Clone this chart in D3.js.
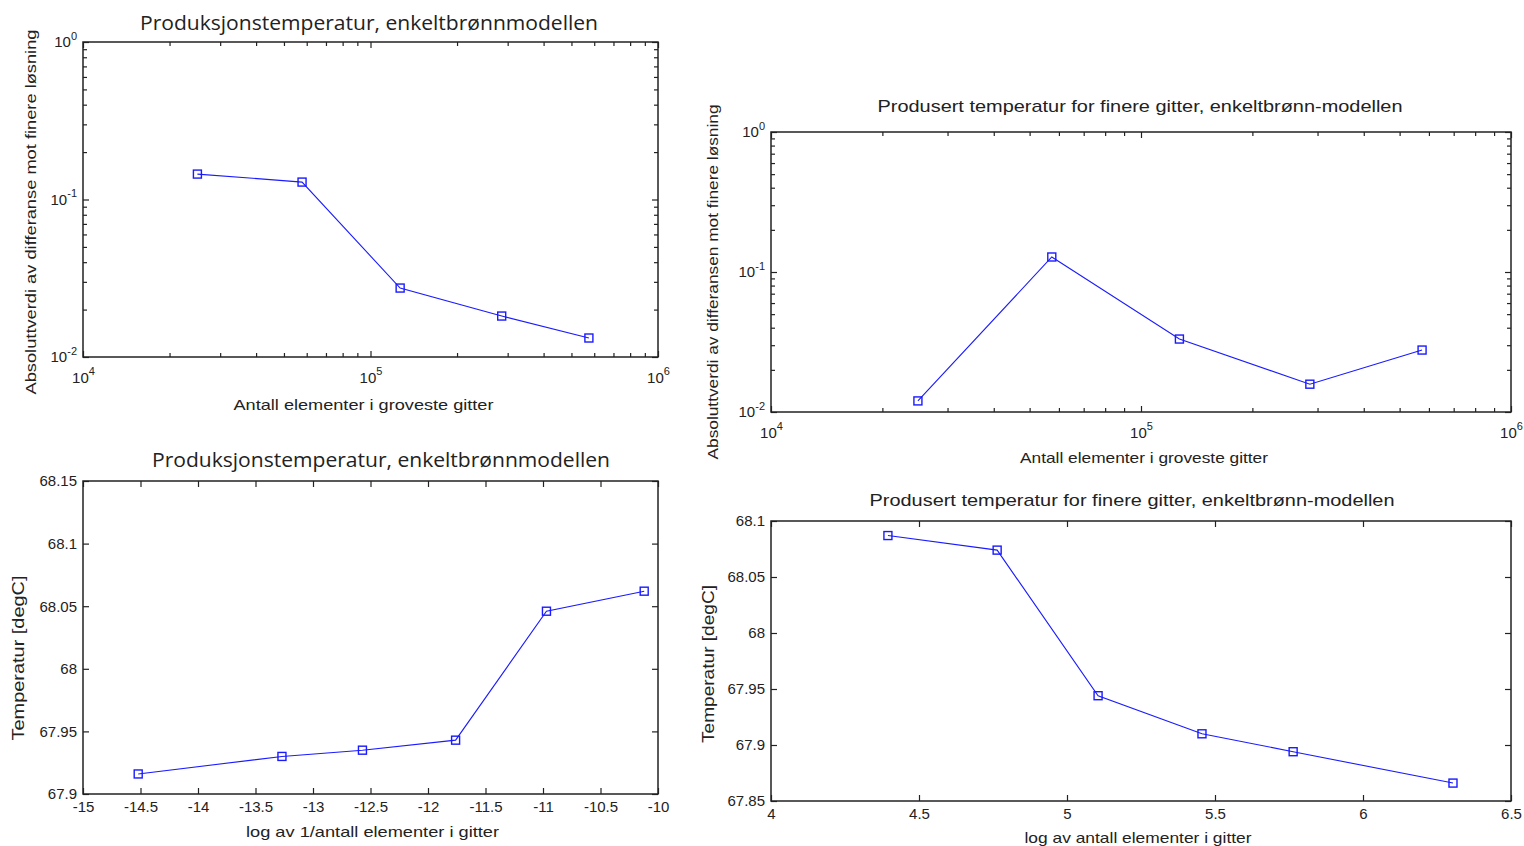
<!DOCTYPE html>
<html>
<head>
<meta charset="utf-8">
<script src="https://cdn.jsdelivr.net/npm/d3@7"></script>
<style>
  body { margin: 0; background: #fff; }
  svg { display: block; }
</style>
</head>
<body>
<div id="chart"></div>
<script>
// top left: abs. difference vs finer solution, log-log
const tlElements = [25000, 57800, 126800, 286000, 575000]
const tlDiff = [0.145, 0.129, 0.0274, 0.0182, 0.0132]

// top right: finer grids
const trElements = [24950, 57400, 127000, 286000, 575000]
const trDiff = [0.0120, 0.128, 0.0332, 0.0158, 0.0277]

// bottom left: temperature vs log(1/N)
const blLogInv = [-14.52, -13.27, -12.57, -11.76, -10.97, -10.12]
const blTemp = [67.916, 67.930, 67.935, 67.943, 68.046, 68.062]

// bottom right: temperature vs log(N)
const brLog = [4.395, 4.764, 5.105, 5.456, 5.764, 6.304]
const brTemp = [68.087, 68.074, 67.944, 67.910, 67.894, 67.866]

const logXTicks = [1e4, 1e5, 1e6]
const logYTicks = [1e-2, 1e-1, 1]
const blXTicks = [-15, -14.5, -14, -13.5, -13, -12.5, -12, -11.5, -11, -10.5, -10]
const blYTicks = [67.9, 67.95, 68, 68.05, 68.1, 68.15]
const brXTicks = [4, 4.5, 5, 5.5, 6, 6.5]
const brYTicks = [67.85, 67.9, 67.95, 68, 68.05, 68.1]

const titleLeft = "Produksjonstemperatur, enkeltbrønnmodellen"
const titleRight = "Produsert temperatur for finere gitter, enkeltbrønn-modellen"

const ink = "#222"
const blue = "#1a1aff"
const sans = "Liberation Sans, Arial, sans-serif"

const svg = d3.select("#chart").append("svg").attr("width", 1524).attr("height", 846)

function minorLogTicks(lo, hi){
    const out = []
    for(let e = lo; e < hi; e++){
        for(let m = 2; m <= 9; m++) out.push(m * Math.pow(10, e))
    }
    return out
}

function supLabel(sel, supSize){
    sel.each(function(d){
        const t = d3.select(this)
        t.text(null)
        t.append("tspan").text("10")
        t.append("tspan").attr("dy", "-0.7em").attr("font-size", supSize)
         .text(Math.round(Math.log10(d)))
    })
}

function drawPanel(p){
    const g = svg.append("g")
    const x = p.xlog ? d3.scaleLog().domain(p.xdom).range([p.x0, p.x1])
                     : d3.scaleLinear().domain(p.xdom).range([p.x0, p.x1])
    const y = p.ylog ? d3.scaleLog().domain(p.ydom).range([p.y1, p.y0])
                     : d3.scaleLinear().domain(p.ydom).range([p.y1, p.y0])

    const fmt = d => String(+d.toFixed(2))
    const tk = 6

    // minor ticks on log axes
    if(p.xlog){
        const mx = minorLogTicks(4, 6)
        g.append("g").attr("transform", `translate(0,${p.y1})`)
         .call(d3.axisBottom(x).tickValues(mx).tickSize(-4).tickFormat(""))
        g.append("g").attr("transform", `translate(0,${p.y0})`)
         .call(d3.axisTop(x).tickValues(mx).tickSize(-4).tickFormat(""))
    }
    if(p.ylog){
        const my = minorLogTicks(-2, 0)
        g.append("g").attr("transform", `translate(${p.x0},0)`)
         .call(d3.axisLeft(y).tickValues(my).tickSize(-4).tickFormat(""))
        g.append("g").attr("transform", `translate(${p.x1},0)`)
         .call(d3.axisRight(y).tickValues(my).tickSize(-4).tickFormat(""))
    }

    const xb = g.append("g").attr("transform", `translate(0,${p.y1})`)
     .call(d3.axisBottom(x).tickValues(p.xticks).tickSize(-tk).tickPadding(p.xlog ? 15 : 7).tickFormat(fmt))
    g.append("g").attr("transform", `translate(0,${p.y0})`)
     .call(d3.axisTop(x).tickValues(p.xticks).tickSize(-tk).tickFormat(""))
    const yl = g.append("g").attr("transform", `translate(${p.x0},0)`)
     .call(d3.axisLeft(y).tickValues(p.yticks).tickSize(-tk).tickPadding(6).tickFormat(fmt))
    g.append("g").attr("transform", `translate(${p.x1},0)`)
     .call(d3.axisRight(y).tickValues(p.yticks).tickSize(-tk).tickFormat(""))

    g.selectAll(".domain").remove()
    g.selectAll(".tick line").attr("stroke", ink).attr("stroke-width", 1.2)
    g.selectAll("g").attr("font-size", null).attr("font-family", null)
    g.selectAll(".tick text").attr("fill", ink).style("font-family", sans)
     .style("font-size", "15px")

    if(p.xlog) supLabel(xb.selectAll(".tick text"), "11px")
    if(p.ylog) supLabel(yl.selectAll(".tick text"), "11px")

    g.append("rect").attr("x", p.x0).attr("y", p.y0)
     .attr("width", p.x1 - p.x0).attr("height", p.y1 - p.y0)
     .attr("fill", "none").attr("stroke", ink).attr("stroke-width", 1.5)

    const pts = p.xs.map((v, i) => ({x: v, y: p.ys[i]}))
    const line = d3.line().x(d => x(d.x)).y(d => y(d.y))
    g.append("path").datum(pts).attr("fill", "none").attr("stroke", blue)
     .attr("stroke-width", 1.1).attr("d", line)

    const s = 8
    g.selectAll("rect.pt").data(pts).enter().append("rect").attr("class", "pt")
     .attr("x", d => x(d.x) - s / 2).attr("y", d => y(d.y) - s / 2)
     .attr("width", s).attr("height", s)
     .attr("fill", "none").attr("stroke", blue).attr("stroke-width", 1.4)

    // titles and axis labels
    g.append("text").attr("x", p.titleX).attr("y", p.titleY).attr("text-anchor", "middle")
     .attr("font-family", p.titleFont).attr("font-size", p.titleSize).attr("fill", ink)
     .attr("textLength", p.titleLen).attr("lengthAdjust", "spacingAndGlyphs")
     .text(p.title)

    g.append("text").attr("x", (p.x0 + p.x1) / 2 + p.xlabDx).attr("y", p.xlabY).attr("text-anchor", "middle")
     .attr("font-family", sans).attr("font-size", "15px").attr("fill", ink)
     .attr("textLength", p.xlabLen).attr("lengthAdjust", "spacingAndGlyphs")
     .text(p.xlab)

    g.append("text").attr("transform", `translate(${p.ylabX},${p.ylabY}) rotate(-90)`)
     .attr("text-anchor", "middle")
     .attr("font-family", sans).attr("font-size", p.ylabSize).attr("fill", ink)
     .attr("textLength", p.ylabLen).attr("lengthAdjust", "spacingAndGlyphs")
     .text(p.ylab)
}

drawPanel({
    x0: 83, x1: 658, y0: 42, y1: 357,
    xlog: true, ylog: true, xdom: [1e4, 1e6], ydom: [1e-2, 1],
    xticks: logXTicks, yticks: logYTicks,
    xs: tlElements, ys: tlDiff,
    title: titleLeft, titleX: 369, titleY: 30, titleFont: "Open Sans, sans-serif", titleSize: "20px", titleLen: 458,
    xlab: "Antall elementer i groveste gitter", xlabDx: -7, xlabY: 410, xlabLen: 260,
    ylab: "Absoluttverdi av differanse mot finere løsning", ylabX: 36, ylabY: 212, ylabSize: "15px", ylabLen: 365
})

drawPanel({
    x0: 771, x1: 1511, y0: 132, y1: 412,
    xlog: true, ylog: true, xdom: [1e4, 1e6], ydom: [1e-2, 1],
    xticks: logXTicks, yticks: logYTicks,
    xs: trElements, ys: trDiff,
    title: titleRight, titleX: 1140, titleY: 112, titleFont: sans, titleSize: "17px", titleLen: 525,
    xlab: "Antall elementer i groveste gitter", xlabDx: 3, xlabY: 463, xlabLen: 248,
    ylab: "Absoluttverdi av differansen mot finere løsning", ylabX: 718, ylabY: 282, ylabSize: "15px", ylabLen: 355
})

drawPanel({
    x0: 83, x1: 658, y0: 481, y1: 794,
    xlog: false, ylog: false, xdom: [-15, -10], ydom: [67.9, 68.15],
    xticks: blXTicks, yticks: blYTicks,
    xs: blLogInv, ys: blTemp,
    title: titleLeft, titleX: 381, titleY: 467, titleFont: "Open Sans, sans-serif", titleSize: "20px", titleLen: 458,
    xlab: "log av 1/antall elementer i gitter", xlabDx: 2, xlabY: 837, xlabLen: 253,
    ylab: "Temperatur [degC]", ylabX: 24, ylabY: 658, ylabSize: "17px", ylabLen: 165
})

drawPanel({
    x0: 771, x1: 1511, y0: 521, y1: 801,
    xlog: false, ylog: false, xdom: [4, 6.5], ydom: [67.85, 68.1],
    xticks: brXTicks, yticks: brYTicks,
    xs: brLog, ys: brTemp,
    title: titleRight, titleX: 1132, titleY: 506, titleFont: sans, titleSize: "17px", titleLen: 525,
    xlab: "log av antall elementer i gitter", xlabDx: -3, xlabY: 843, xlabLen: 227,
    ylab: "Temperatur [degC]", ylabX: 714, ylabY: 664, ylabSize: "17px", ylabLen: 158
})
</script>
</body>
</html>
